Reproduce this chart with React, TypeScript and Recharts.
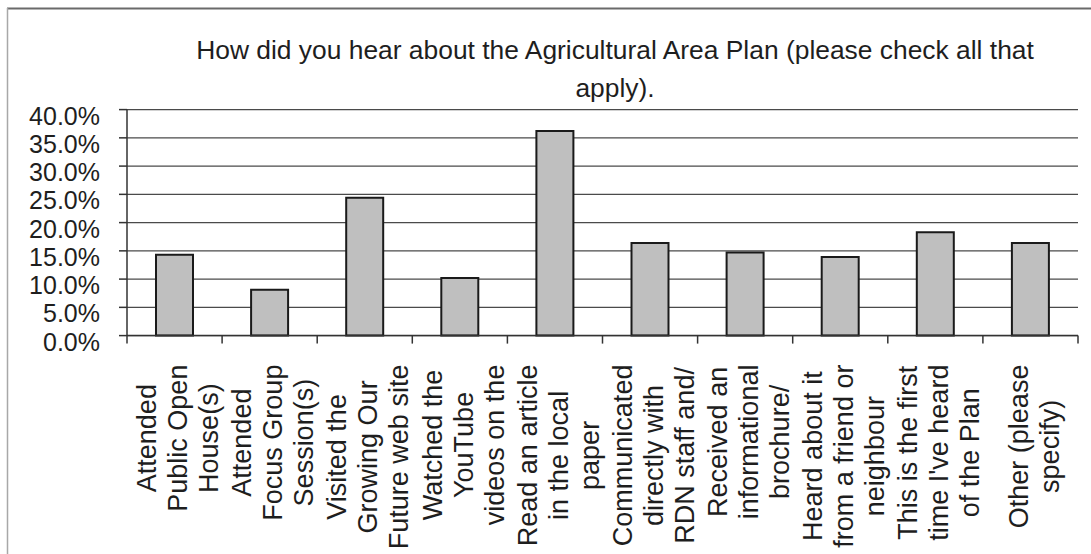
import React from "react";
import { BarChart, Bar, XAxis, YAxis, CartesianGrid } from "recharts";

const TITLE_LINES = [
  "How did you hear about the Agricultural Area Plan (please check all that",
  "apply).",
];

const CATEGORIES = [
  "Attended Public Open House(s)",
  "Attended Focus Group Session(s)",
  "Visited the Growing Our Future web site",
  "Watched the YouTube videos on the",
  "Read an article in the local paper",
  "Communicated directly with RDN staff and/",
  "Received an informational brochure/",
  "Heard about it from a friend or neighbour",
  "This is the first time I've heard of the Plan",
  "Other (please specify)",
];

const LABEL_LINES = [
  ["Attended", "Public Open", "House(s)"],
  ["Attended", "Focus Group", "Session(s)"],
  ["Visited the", "Growing Our", "Future web site"],
  ["Watched the", "YouTube", "videos on the"],
  ["Read an article", "in the local", "paper"],
  ["Communicated", "directly with", "RDN staff and/"],
  ["Received an", "informational", "brochure/"],
  ["Heard about it", "from a friend or", "neighbour"],
  ["This is the first", "time I've heard", "of the Plan"],
  ["Other (please", "specify)"],
];

const VALUES = [0.143, 0.081, 0.244, 0.102, 0.362, 0.164, 0.147, 0.139, 0.183, 0.164];

const Y_TICKS = [0, 0.05, 0.1, 0.15, 0.2, 0.25, 0.3, 0.35, 0.4];

const data = CATEGORIES.map((c, i) => ({ name: c, value: VALUES[i] }));

const FONT = '"Liberation Sans", Arial, sans-serif';
const LABEL_SIZE = 27;
const INK = "#1e1e1e";

let ctx: CanvasRenderingContext2D | null = null;
function measure(s: string): number {
  if (!ctx) ctx = document.createElement("canvas").getContext("2d");
  if (!ctx) return s.length * LABEL_SIZE * 0.5;
  ctx.font = `${LABEL_SIZE}px "Liberation Sans"`;
  return ctx.measureText(s).width;
}

const XTick = (props: any) => {
  const { x, y, payload, index } = props;
  const lines: string[] = LABEL_LINES[index] ?? [String(payload.value)];
  const half = payload && payload.offset ? payload.offset : 951 / CATEGORIES.length / 2;
  const maxLen = Math.max(...lines.map(measure));
  const cy = y + 29 + maxLen / 2;
  const lh = 31;
  return (
    <g>
      <line x1={x - half} x2={x - half} y1={y} y2={y + 8} stroke="#333" strokeWidth={1.5} />
      {index === CATEGORIES.length - 1 && (
        <line x1={x + half} x2={x + half} y1={y} y2={y + 8} stroke="#333" strokeWidth={1.5} />
      )}
      {lines.map((ln, i) => {
        const cx = x + 3 + (i - (lines.length - 1) / 2) * lh;
        return (
          <text
            key={i}
            transform={`translate(${cx},${cy}) rotate(-90)`}
            textAnchor="middle"
            dy="0.36em"
            fontFamily={FONT}
            fontSize={LABEL_SIZE}
            fill={INK}
          >
            {ln}
          </text>
        );
      })}
    </g>
  );
};

const YTick = (props: any) => {
  const { x, y, payload } = props;
  return (
    <text x={x} y={y} dy={15} textAnchor="end" fontFamily={FONT} fontSize={25} fill={INK}>
      {`${(payload.value * 100).toFixed(1)}%`}
    </text>
  );
};

export default function App() {
  return (
    <div style={{ position: "absolute", left: 0, top: 0, width: 1091, height: 554, background: "#fff" }}>
      <svg
        width={1091}
        height={554}
        style={{ position: "absolute", left: 0, top: 0, pointerEvents: "none" }}
      >
        <line x1={7} x2={1091} y1={8.5} y2={8.5} stroke="#6a6a6a" strokeWidth={2} />
        <line x1={7.5} x2={7.5} y1={8} y2={554} stroke="#a8a8a8" strokeWidth={1.5} />
        <text x={615} y={59} textAnchor="middle" fontFamily={FONT} fontSize={26.4} fill={INK}>
          {TITLE_LINES[0]}
        </text>
        <text x={615} y={97} textAnchor="middle" fontFamily={FONT} fontSize={26.4} fill={INK}>
          {TITLE_LINES[1]}
        </text>
      </svg>
      <div style={{ position: "absolute", left: 0, top: 0 }}>
        <BarChart
          width={1091}
          height={554}
          data={data}
          margin={{ top: 109.6, right: 13, bottom: 0, left: 0 }}
          barSize={37}
        >
          <CartesianGrid vertical={false} stroke="#4a4a4a" strokeWidth={1.4} />
          <XAxis
            dataKey="name"
            interval={0}
            height={218.4}
            tickSize={0}
            tickMargin={0}
            tickLine={false}
            axisLine={{ stroke: "#333", strokeWidth: 1.5 }}
            tick={<XTick />}
          />
          <YAxis
            domain={[0, 0.4]}
            ticks={Y_TICKS}
            width={127}
            tickSize={8}
            tickMargin={19}
            interval={0}
            axisLine={{ stroke: "#333", strokeWidth: 1.5 }}
            tickLine={{ stroke: "#333", strokeWidth: 1.5 }}
            tick={<YTick />}
          />
          <Bar dataKey="value" fill="#bfbfbf" stroke="#1a1a1a" strokeWidth={2} isAnimationActive={false} />
        </BarChart>
      </div>
    </div>
  );
}
